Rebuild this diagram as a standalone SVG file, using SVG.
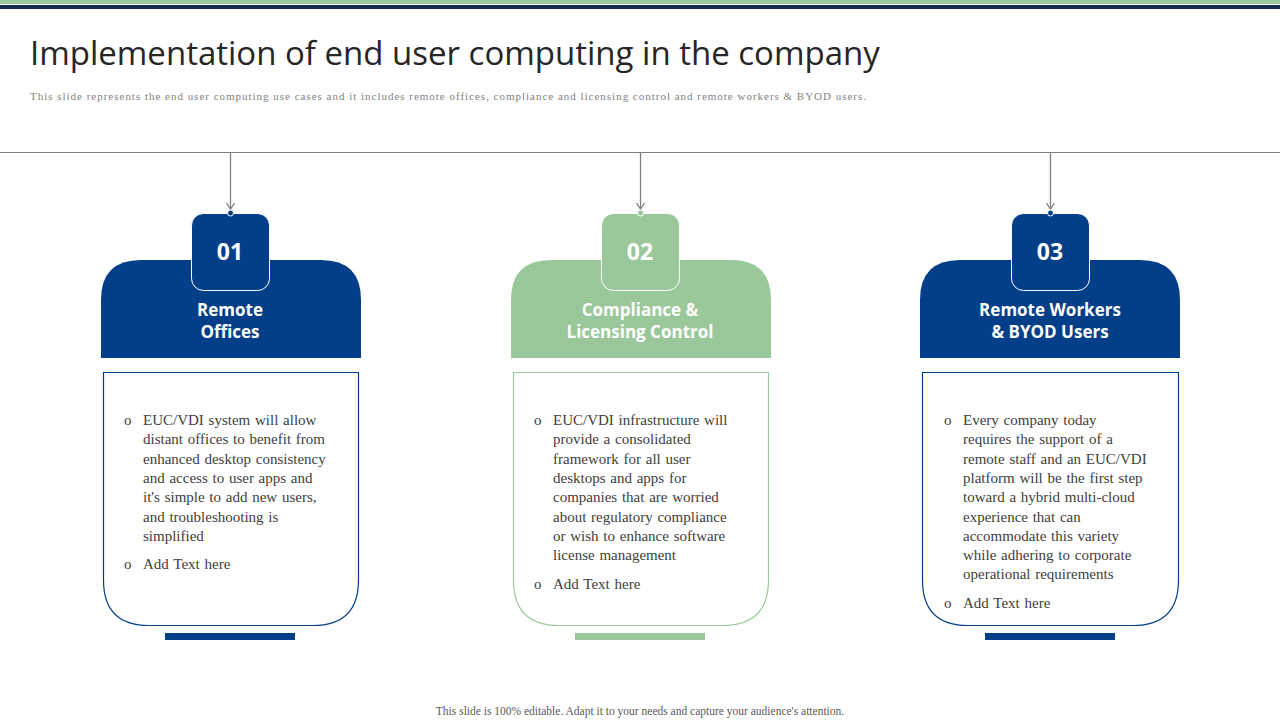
<svg xmlns="http://www.w3.org/2000/svg" width="1280" height="720" viewBox="0 0 1280 720">
<defs>
<style>
.t{font-family:"Open Sans","Liberation Sans",sans-serif}
.h{font-family:"Open Sans","Liberation Sans",sans-serif;font-weight:bold;fill:#fff;font-size:17px;text-anchor:middle}
.n{font-family:"Open Sans","Liberation Sans",sans-serif;font-weight:bold;fill:#fff;font-size:23px;text-anchor:middle}
.b{font-family:"Liberation Serif",serif;font-size:15px;fill:#404040;word-spacing:1px}
.conn{stroke:#7f7f7f;stroke-width:1.3;fill:none}
</style>
<marker id="ar" markerWidth="10" markerHeight="10" refX="8" refY="5" orient="auto" markerUnits="userSpaceOnUse"><path d="M2,1 L8,5 L2,9" fill="none" stroke="#7f7f7f" stroke-width="1.3"/></marker>
</defs>
<rect x="0" y="0" width="1280" height="4" fill="#9bc89a"/>
<rect x="0" y="5" width="1280" height="4" fill="#13294f"/>
<text x="30" y="65" class="t" font-size="33" fill="#262626">Implementation of end user computing in the company</text>
<text x="30" y="100" font-family="Liberation Serif,serif" font-size="11" fill="#7f7f7f" textLength="836" lengthAdjust="spacing">This slide represents the end user computing use cases and it includes remote  offices, compliance  and licensing control and remote  workers &amp; BYOD  users.</text>
<g id="connectors">
<line x1="0" y1="152.5" x2="1280" y2="152.5" stroke="#7f7f7f" stroke-width="1"/>
<line class="conn" x1="230.5" y1="153" x2="230.5" y2="209" marker-end="url(#ar)"/>
<line class="conn" x1="640.5" y1="153" x2="640.5" y2="209" marker-end="url(#ar)"/>
<line class="conn" x1="1050.5" y1="153" x2="1050.5" y2="209" marker-end="url(#ar)"/>
</g>
<g id="node1">
<path d="M101,358 V300 Q101,260 141,260 H321 Q361,260 361,300 V358 Z" fill="#033f88"/>
<rect x="191.5" y="213.5" width="78" height="77" rx="12" fill="#033f88" stroke="#fff" stroke-width="1"/>
<circle cx="230.5" cy="213" r="3" fill="#033f88" stroke="#fff" stroke-width="1"/>
<text x="230" y="260" class="n">01</text>
<text x="230" y="316" class="h">Remote</text>
<text x="230" y="338" class="h">Offices</text>
<path d="M103.5,372.5 H358.5 V580 Q358.5,625.5 313,625.5 H149 Q103.5,625.5 103.5,580 Z" fill="#fff" stroke="#033f88" stroke-width="1.2"/>
<rect x="165" y="633" width="130" height="7" fill="#033f88"/>
<g class="b">
<text x="124" y="425">o</text>
<text x="143" y="425">EUC/VDI  system  will  allow</text>
<text x="143" y="444.3">distant  offices  to benefit  from</text>
<text x="143" y="463.6">enhanced  desktop consistency</text>
<text x="143" y="482.9">and access to user apps and</text>
<text x="143" y="502.2">it's simple  to add new users,</text>
<text x="143" y="521.5">and troubleshooting  is</text>
<text x="143" y="540.8">simplified</text>
<text x="124" y="569">o</text>
<text x="143" y="569">Add Text  here</text>
</g>
</g>
<g id="node2">
<path d="M511,358 V300 Q511,260 551,260 H731 Q771,260 771,300 V358 Z" fill="#9bc89a"/>
<rect x="601.5" y="213.5" width="78" height="77" rx="12" fill="#9bc89a" stroke="#fff" stroke-width="1"/>
<circle cx="640.5" cy="213" r="3" fill="#9bc89a" stroke="#fff" stroke-width="1"/>
<text x="640" y="260" class="n">02</text>
<text x="640" y="316" class="h">Compliance &amp;</text>
<text x="640" y="338" class="h">Licensing Control</text>
<path d="M513.5,372.5 H768.5 V580 Q768.5,625.5 723,625.5 H559 Q513.5,625.5 513.5,580 Z" fill="#fff" stroke="#9bc89a" stroke-width="1.2"/>
<rect x="575" y="633" width="130" height="7" fill="#9bc89a"/>
<g class="b">
<text x="534" y="425">o</text>
<text x="553" y="425">EUC/VDI  infrastructure  will</text>
<text x="553" y="444.3">provide  a consolidated</text>
<text x="553" y="463.6">framework  for all  user</text>
<text x="553" y="482.9">desktops and apps for</text>
<text x="553" y="502.2">companies  that are worried</text>
<text x="553" y="521.5">about regulatory  compliance</text>
<text x="553" y="540.8">or wish to enhance  software</text>
<text x="553" y="560.1">license  management</text>
<text x="534" y="589">o</text>
<text x="553" y="589">Add Text  here</text>
</g>
</g>
<g id="node3">
<path d="M920,358 V300 Q920,260 960,260 H1140 Q1180,260 1180,300 V358 Z" fill="#033f88"/>
<rect x="1011.5" y="213.5" width="78" height="77" rx="12" fill="#033f88" stroke="#fff" stroke-width="1"/>
<circle cx="1050.5" cy="213" r="3" fill="#033f88" stroke="#fff" stroke-width="1"/>
<text x="1050" y="260" class="n">03</text>
<text x="1050" y="316" class="h">Remote Workers</text>
<text x="1050" y="338" class="h">&amp; BYOD Users</text>
<path d="M922.5,372.5 H1178.5 V580 Q1178.5,625.5 1133,625.5 H968 Q922.5,625.5 922.5,580 Z" fill="#fff" stroke="#033f88" stroke-width="1.2"/>
<rect x="985" y="633" width="130" height="7" fill="#033f88"/>
<g class="b">
<text x="944" y="425">o</text>
<text x="963" y="425">Every  company  today</text>
<text x="963" y="444.3">requires  the support  of a</text>
<text x="963" y="463.6">remote  staff  and an EUC/VDI</text>
<text x="963" y="482.9">platform  will  be the first  step</text>
<text x="963" y="502.2">toward  a hybrid  multi-cloud</text>
<text x="963" y="521.5">experience  that can</text>
<text x="963" y="540.8">accommodate  this  variety</text>
<text x="963" y="560.1">while  adhering  to corporate</text>
<text x="963" y="579.4">operational  requirements</text>
<text x="944" y="608">o</text>
<text x="963" y="608">Add Text  here</text>
</g>
</g>
<text x="640" y="715" text-anchor="middle" font-family="Liberation Serif,serif" font-size="11.5" fill="#595959">This slide is 100% editable.  Adapt it to your needs and capture your audience's  attention.</text>
</svg>
